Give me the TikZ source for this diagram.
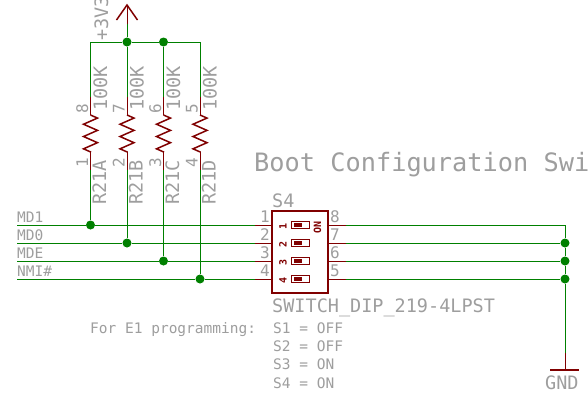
\documentclass[tikz,border=0pt]{standalone}
\usepackage{fontspec}
\setmonofont{DejaVu Sans Mono}
\usepackage{tikz}
\usetikzlibrary{decorations.pathmorphing,positioning}

\definecolor{netgreen}{RGB}{0,128,0}
\definecolor{symred}{RGB}{128,0,0}
\definecolor{lblgray}{RGB}{158,158,158}

\begin{document}
\begin{tikzpicture}
    [
      x=1pt,y=-1pt,
      wire/.style={draw=netgreen,line width=1pt},
      pin/.style={draw=symred,line width=1pt},
      zig/.style={draw=symred,line width=1.5pt,decorate,decoration={zigzag,amplitude=7pt,segment length=12.3pt}},
      junction/.style={circle,fill=netgreen,inner sep=0pt,minimum size=9pt},
      lbl/.style={text=lblgray,font=\ttfamily\fontsize{14.5}{14.5}\selectfont,inner sep=0pt,anchor=base west},
      biglbl/.style={lbl,font=\ttfamily\fontsize{18.5}{18.5}\selectfont},
      vlbl/.style={biglbl,rotate=90},
      pinnum/.style={lbl,font=\ttfamily\fontsize{16}{16}\selectfont,rotate=90,anchor=base},
      swbox/.style={draw=symred,line width=0.7pt,minimum width=18pt,minimum height=7.5pt,inner sep=0pt},
      swfill/.style={fill=symred,minimum width=8pt,minimum height=4.5pt,inner sep=0pt},
      swnum/.style={text=symred,font=\ttfamily\bfseries\fontsize{10}{10}\selectfont,rotate=90,inner sep=0pt},
    ]

    \useasboundingbox [fill=white] (0,0) rectangle (588,402);

    % supply
    \coordinate (vcc-tip) at (127,5);
    \coordinate (vcc-l) at (116.5,20);
    \coordinate (vcc-r) at (137.5,20);
    \coordinate (vcc-pin) at (127,24);
    \node (vcc) [junction] at (127,42) {};
    \node (rail-c) [junction] at (163.5,42) {};
    \coordinate (rail-a) at (90.5,42);
    \coordinate (rail-d) at (200,42);

    \draw [draw=symred,line width=1.5pt] (vcc-l) -- (vcc-tip) -- (vcc-r);
    \draw [pin] (vcc-tip) -- (vcc-pin);
    \draw [wire] (vcc-pin) -- (vcc);
    \draw [wire] (rail-a) -- (vcc) -- (rail-c) -- (rail-d);

    % resistors
    \coordinate (ra-1) at (90.5,97);
    \coordinate (ra-2) at (90.5,115);
    \coordinate (ra-3) at (90.5,152);
    \coordinate (ra-4) at (90.5,170);
    \coordinate (rb-1) at (127,97);
    \coordinate (rb-2) at (127,115);
    \coordinate (rb-3) at (127,152);
    \coordinate (rb-4) at (127,170);
    \coordinate (rc-1) at (163.5,97);
    \coordinate (rc-2) at (163.5,115);
    \coordinate (rc-3) at (163.5,152);
    \coordinate (rc-4) at (163.5,170);
    \coordinate (rd-1) at (200,97);
    \coordinate (rd-2) at (200,115);
    \coordinate (rd-3) at (200,152);
    \coordinate (rd-4) at (200,170);

    % nets
    \node (md1-j) [junction] at (90.5,225) {};
    \node (md0-j) [junction] at (127,243) {};
    \node (mde-j) [junction] at (163.5,261) {};
    \node (nmi-j) [junction] at (200,279) {};
    \coordinate (md1-l) at (17,225);
    \coordinate (md0-l) at (17,243);
    \coordinate (mde-l) at (17,261);
    \coordinate (nmi-l) at (17,279);

    \draw [wire] (rail-a) -- (ra-1);
    \draw [pin] (ra-1) -- (ra-2);
    \draw [zig] (ra-2) -- (ra-3);
    \draw [pin] (ra-3) -- (ra-4);
    \draw [wire] (ra-4) -- (md1-j);

    \draw [wire] (vcc) -- (rb-1);
    \draw [pin] (rb-1) -- (rb-2);
    \draw [zig] (rb-2) -- (rb-3);
    \draw [pin] (rb-3) -- (rb-4);
    \draw [wire] (rb-4) -- (md0-j);

    \draw [wire] (rail-c) -- (rc-1);
    \draw [pin] (rc-1) -- (rc-2);
    \draw [zig] (rc-2) -- (rc-3);
    \draw [pin] (rc-3) -- (rc-4);
    \draw [wire] (rc-4) -- (mde-j);

    \draw [wire] (rail-d) -- (rd-1);
    \draw [pin] (rd-1) -- (rd-2);
    \draw [zig] (rd-2) -- (rd-3);
    \draw [pin] (rd-3) -- (rd-4);
    \draw [wire] (rd-4) -- (nmi-j);

    % switch
    \node (s4) [draw=symred,line width=2.4pt,minimum width=56pt,minimum height=82pt,inner sep=0pt] at (300.25,252) {};

    \coordinate (p1-g) at (255,225);
    \coordinate (p2-g) at (255,243);
    \coordinate (p3-g) at (255,261);
    \coordinate (p4-g) at (255,279);
    \coordinate (p1-b) at (272,225);
    \coordinate (p2-b) at (272,243);
    \coordinate (p3-b) at (272,261);
    \coordinate (p4-b) at (272,279);
    \coordinate (p8-b) at (328.5,225);
    \coordinate (p7-b) at (328.5,243);
    \coordinate (p6-b) at (328.5,261);
    \coordinate (p5-b) at (328.5,279);
    \coordinate (p8-g) at (346,225);
    \coordinate (p7-g) at (346,243);
    \coordinate (p6-g) at (346,261);
    \coordinate (p5-g) at (346,279);

    \draw [wire] (md1-l) -- (md1-j) -- (p1-g);
    \draw [wire] (md0-l) -- (md0-j) -- (p2-g);
    \draw [wire] (mde-l) -- (mde-j) -- (p3-g);
    \draw [wire] (nmi-l) -- (nmi-j) -- (p4-g);
    \draw [pin] (p1-g) -- (p1-b);
    \draw [pin] (p2-g) -- (p2-b);
    \draw [pin] (p3-g) -- (p3-b);
    \draw [pin] (p4-g) -- (p4-b);
    \draw [pin] (p8-b) -- (p8-g);
    \draw [pin] (p7-b) -- (p7-g);
    \draw [pin] (p6-b) -- (p6-g);
    \draw [pin] (p5-b) -- (p5-g);

    \node (sw1) [swbox] at (300,225) {};
    \node (sw2) [swbox] at (300,243) {};
    \node (sw3) [swbox] at (300,261) {};
    \node (sw4) [swbox] at (300,279) {};
    \node (sw1-f) [swfill] at (297.5,225) {};
    \node (sw2-f) [swfill] at (297.5,243) {};
    \node (sw3-f) [swfill] at (297.5,261) {};
    \node (sw4-f) [swfill] at (297.5,279) {};
    \node (sw1-n) [swnum] at (283,226) {1};
    \node (sw2-n) [swnum] at (283,244) {2};
    \node (sw3-n) [swnum] at (283,262) {3};
    \node (sw4-n) [swnum] at (283,280) {4};
    \node (sw-on) [swnum] at (317.5,227) {ON};

    % ground
    \node (gnd-1) [junction] at (565,243) {};
    \node (gnd-2) [junction] at (565,261) {};
    \node (gnd-3) [junction] at (565,279) {};
    \coordinate (gnd-t) at (565,225);
    \coordinate (gnd-p) at (565,353);
    \coordinate (gnd-b) at (565,370);
    \coordinate (gnd-l) at (550,370);
    \coordinate (gnd-r) at (579,370);

    \draw [wire] (p8-g) -- (gnd-t) -- (gnd-1) -- (gnd-2) -- (gnd-3) -- (gnd-p);
    \draw [wire] (p7-g) -- (gnd-1);
    \draw [wire] (p6-g) -- (gnd-2);
    \draw [wire] (p5-g) -- (gnd-3);
    \draw [pin] (gnd-p) -- (gnd-b);
    \draw [draw=symred,line width=1.5pt] (gnd-l) -- (gnd-r);

    % labels
    \node (vcc-lbl) [vlbl] at (108,41) {+3V3};
    \node (ra-val) [vlbl] at (107,111) {100K};
    \node (rb-val) [vlbl] at (143.5,111) {100K};
    \node (rc-val) [vlbl] at (180,111) {100K};
    \node (rd-val) [vlbl] at (216.5,111) {100K};
    \node (ra-name) [vlbl] at (106,205) {R21A};
    \node (rb-name) [vlbl] at (142.5,205) {R21B};
    \node (rc-name) [vlbl] at (179,205) {R21C};
    \node (rd-name) [vlbl] at (215.5,205) {R21D};
    \node (ra-8) [pinnum] at (88,109) {8};
    \node (rb-7) [pinnum] at (124.5,109) {7};
    \node (rc-6) [pinnum] at (161,109) {6};
    \node (rd-5) [pinnum] at (197.5,109) {5};
    \node (ra-1n) [pinnum] at (88,163) {1};
    \node (rb-2n) [pinnum] at (124.5,163) {2};
    \node (rc-3n) [pinnum] at (161,163) {3};
    \node (rd-4n) [pinnum] at (197.5,163) {4};

    \node (md1-lbl) [lbl] at (17,222.5) {MD1};
    \node (md0-lbl) [lbl] at (17,240.5) {MD0};
    \node (mde-lbl) [lbl] at (17,258.5) {MDE};
    \node (nmi-lbl) [lbl] at (17,276.5) {NMI\#};

    \node (s4-name) [biglbl] at (272,207) {S4};
    \node (s4-val) [biglbl] at (272,312) {SWITCH\_DIP\_219-4LPST};
    \node (p1-n) [lbl,font=\ttfamily\fontsize{16}{16}\selectfont,anchor=base east] at (270,222.5) {1};
    \node (p2-n) [lbl,font=\ttfamily\fontsize{16}{16}\selectfont,anchor=base east] at (270,240.5) {2};
    \node (p3-n) [lbl,font=\ttfamily\fontsize{16}{16}\selectfont,anchor=base east] at (270,258.5) {3};
    \node (p4-n) [lbl,font=\ttfamily\fontsize{16}{16}\selectfont,anchor=base east] at (270,276.5) {4};
    \node (p8-n) [lbl,font=\ttfamily\fontsize{16}{16}\selectfont] at (330,222.5) {8};
    \node (p7-n) [lbl,font=\ttfamily\fontsize{16}{16}\selectfont] at (330,240.5) {7};
    \node (p6-n) [lbl,font=\ttfamily\fontsize{16}{16}\selectfont] at (330,258.5) {6};
    \node (p5-n) [lbl,font=\ttfamily\fontsize{16}{16}\selectfont] at (330,276.5) {5};

    \node (title) [lbl,font=\ttfamily\fontsize{25.3}{25.3}\selectfont] at (254,171) {Boot Configuration Swi};
    \node (gnd-lbl) [biglbl] at (545,389) {GND};

    \node (note) [lbl] at (90,333) {For E1 programming:};
    \node (note-1) [lbl] at (273,333) {S1 = OFF};
    \node (note-2) [lbl] at (273,351) {S2 = OFF};
    \node (note-3) [lbl] at (273,369) {S3 = ON};
    \node (note-4) [lbl] at (273,388) {S4 = ON};

  \end{tikzpicture}
\end{document}
